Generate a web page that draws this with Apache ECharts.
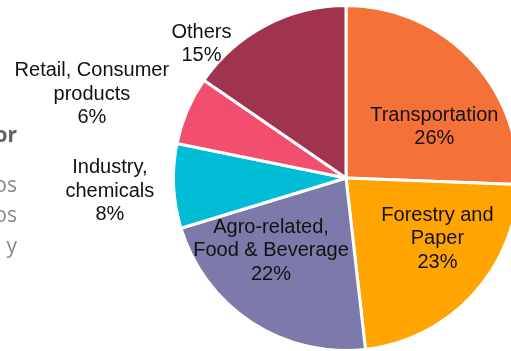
<!DOCTYPE html>
<html>
<head>
<meta charset="utf-8">
<script src="https://cdn.jsdelivr.net/npm/echarts@6/dist/echarts.min.js"></script>
<style>html,body{margin:0;padding:0;background:#fff;}#c{width:511px;height:351px;}</style>
</head>
<body>
<div id="c"></div>
<script>
var categories = ['Transportation', 'Forestry and Paper', 'Agro-related, Food & Beverage', 'Industry, chemicals', 'Retail, Consumer products', 'Others'];
var labelText = ['Transportation', 'Forestry and\nPaper', 'Agro-related,\nFood & Beverage', 'Industry,\nchemicals', 'Retail, Consumer\nproducts', 'Others'];
var values = [25.6, 22.6, 22.1, 7.9, 6.4, 15.4];
var colors = ['#F47238', '#FFA400', '#7B7AAA', '#00BCD4', '#F24E6E', '#A0334D'];
var labelOffsets = [[24, 11], [26, 0], [-26, -2], [-147, 9], [-172, -49], [-103, -55]];
var sideTexts = ['or', 'os', 'os', 'y'];
var sideTops = [126, 176, 206, 237];

var chart = echarts.init(document.getElementById('c'));
var data = categories.map(function (c, i) {
  return {
    name: c,
    value: values[i],
    itemStyle: { color: colors[i] },
    label: { offset: labelOffsets[i], formatter: labelText[i] + '\n' + Math.round(values[i]) + '%' }
  };
});
chart.setOption({
  animation: false,
  graphic: sideTexts.map(function (t, i) {
    return {
      type: 'text', right: 511 - 17, top: sideTops[i],
      style: {
        text: t, fill: i === 0 ? '#5f5f5f' : '#888',
        font: (i === 0 ? 'bold ' : '') + '21px "Open Sans", sans-serif',
        textAlign: 'right'
      }
    };
  }),
  series: [{
    type: 'pie',
    center: [346, 178],
    radius: [0, 172.5],
    startAngle: 90,
    clockwise: true,
    avoidLabelOverlap: false,
    itemStyle: { borderColor: '#fff', borderWidth: 3 },
    label: {
      show: true, position: 'inside', color: '#111',
      fontFamily: 'Liberation Sans, Arial, sans-serif', fontSize: 20, lineHeight: 23.5,
      align: 'center', verticalAlign: 'middle'
    },
    labelLine: { show: false },
    emphasis: { disabled: true },
    data: data
  }]
});
</script>
</body>
</html>
